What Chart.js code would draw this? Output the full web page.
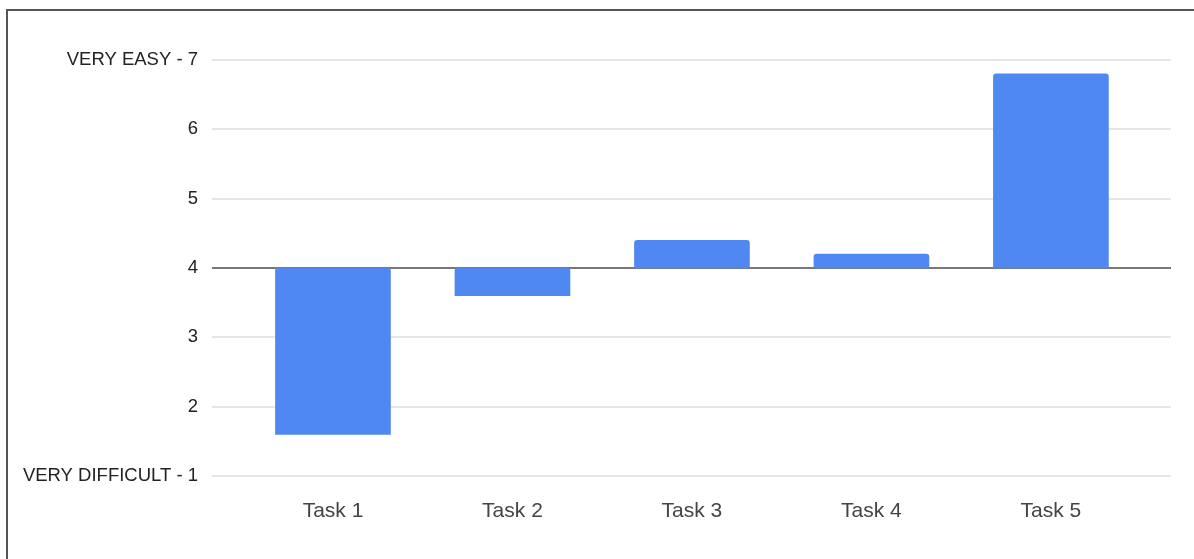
<!DOCTYPE html>
<html>
<head>
<meta charset="utf-8">
<script src="https://cdn.jsdelivr.net/npm/chart.js@4/dist/chart.umd.min.js"></script>
<style>
  html, body { margin: 0; padding: 0; background: #fff; }
  #wrap { position: absolute; left: 0; top: 0; width: 1194px; height: 559px; }
  #frame { position: absolute; left: 6px; top: 9px; right: 0; bottom: 0;
           border-left: 2px solid #555; border-top: 2px solid #555; pointer-events: none; }
  canvas { position: absolute; left: 0; top: 0; }
</style>
</head>
<body>
<div id="wrap">
  <canvas id="c" width="1194" height="559"></canvas>
  <div id="frame"></div>
</div>
<script>
const categories = ["Task 1", "Task 2", "Task 3", "Task 4", "Task 5"];
const scores = [1.6, 3.6, 4.4, 4.2, 6.8];
const baseline = 4;
const yTickLabels = { 7: "VERY EASY - 7", 1: "VERY DIFFICULT - 1" };

const data = scores.map((v, i) => ({ x: i + 1, y: [baseline, v] }));

new Chart(document.getElementById('c'), {
  type: 'bar',
  data: {
    datasets: [{
      data: data,
      backgroundColor: '#5088f2',
      borderWidth: 0,
      borderRadius: 3,
      borderSkipped: 'start',
      barThickness: 115
    }]
  },
  options: {
    responsive: false,
    animation: false,
    events: [],
    layout: { padding: { left: 0, right: 23, top: 60, bottom: 0 } },
    plugins: { legend: { display: false }, tooltip: { enabled: false } },
    scales: {
      x: {
        type: 'linear',
        offset: false,
        min: 0.326,
        max: 5.669,
        grid: { display: false },
        border: { display: false },
        afterBuildTicks: (scale) => { scale.ticks = categories.map((c, i) => ({ value: i + 1 })); },
        afterFit: (scale) => { scale.height = 83; },
        ticks: {
          autoSkip: false,
          maxRotation: 0,
          padding: 15,
          color: '#444',
          font: { family: 'Liberation Sans, Arial, sans-serif', size: 21 },
          callback: (v) => categories[Math.round(v) - 1] || ''
        }
      },
      y: {
        min: 1,
        max: 7,
        border: { display: false },
        afterFit: (scale) => { scale.width = 212; },
        grid: {
          drawTicks: false,
          color: (ctx) => ctx.tick && ctx.tick.value === baseline ? '#777' : '#e6e6e6',
          lineWidth: 2
        },
        ticks: {
          stepSize: 1,
          padding: 14,
          color: '#222',
          font: { family: 'Liberation Sans, Arial, sans-serif', size: 18.5 },
          callback: (v) => yTickLabels[v] || String(v)
        }
      }
    }
  }
});
</script>
</body>
</html>
